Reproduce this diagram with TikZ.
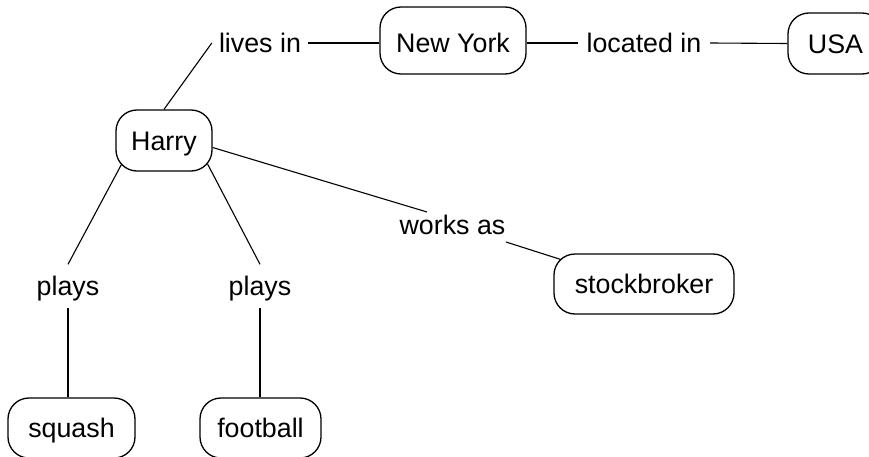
\documentclass[tikz,border=0pt]{standalone}
\usepackage{fontspec}
\setmainfont{Liberation Sans}
\begin{document}
\begin{tikzpicture}[x=1pt,y=-1pt,
  concept/.style={draw, line width=1.3pt, rounded corners=21pt, inner sep=0pt,
    minimum height=61pt, text height=19.2pt, text depth=0pt,
    font=\fontsize{26.8}{31}\selectfont},
  relation/.style={inner sep=0pt, text height=19.2pt, text depth=0pt,
    font=\fontsize{26.8}{31}\selectfont},
  link/.style={line width=1.1pt}]
\clip (0,0) rectangle (869,457);

% concepts
\node[concept, minimum width=96pt] (harry) at (164,140.5) {Harry};
\node[concept, minimum width=146pt, minimum height=67pt, text height=24.2pt] (newyork) at (453,40.5) {New York};
\node[concept, minimum width=95pt] (usa) at (835.5,43.5) {USA};
\node[concept, minimum width=180pt, minimum height=60pt] (stockbroker) at (644,284) {stockbroker};
\node[concept, minimum width=127pt, minimum height=60pt] (squash) at (71.5,428) {squash};
\node[concept, minimum width=121pt, minimum height=60pt] (football) at (260.5,428) {football};

% relations
\node[relation, minimum width=96pt] (livesin) at (260,43) {lives in};
\node[relation, minimum width=132pt] (locatedin) at (644,43) {located in};
\node[relation] (worksas) at (452.5,225) {works as};
\node[relation, minimum height=43pt] (plays1) at (68,286) {plays};
\node[relation, minimum height=43pt] (plays2) at (260,286) {plays};

% links
\draw[link] (harry.north) -- (livesin.west);
\draw[link] (livesin.east) -- (livesin.east -| newyork.west);
\draw[link] (locatedin.west) -- (locatedin.west -| newyork.east);
\draw[link] (locatedin.east) -- (usa.west);
\draw[link] ([xshift=6pt,yshift=7pt]harry.south west) -- (plays1.north);
\draw[link] ([xshift=-5pt,yshift=7.5pt]harry.south east) -- (plays2.north);
\draw[link] (plays1.south) -- (plays1.south |- squash.north);
\draw[link] (plays2.south) -- (plays2.south |- football.north);
\draw[link] ([yshift=-7pt]harry.east) -- ([xshift=-25.5pt,yshift=13pt]worksas.center);
\draw[link] ([xshift=53.5pt,yshift=-17pt]worksas.center) -- ([xshift=7pt,yshift=-6pt]stockbroker.north west);
\end{tikzpicture}
\end{document}
